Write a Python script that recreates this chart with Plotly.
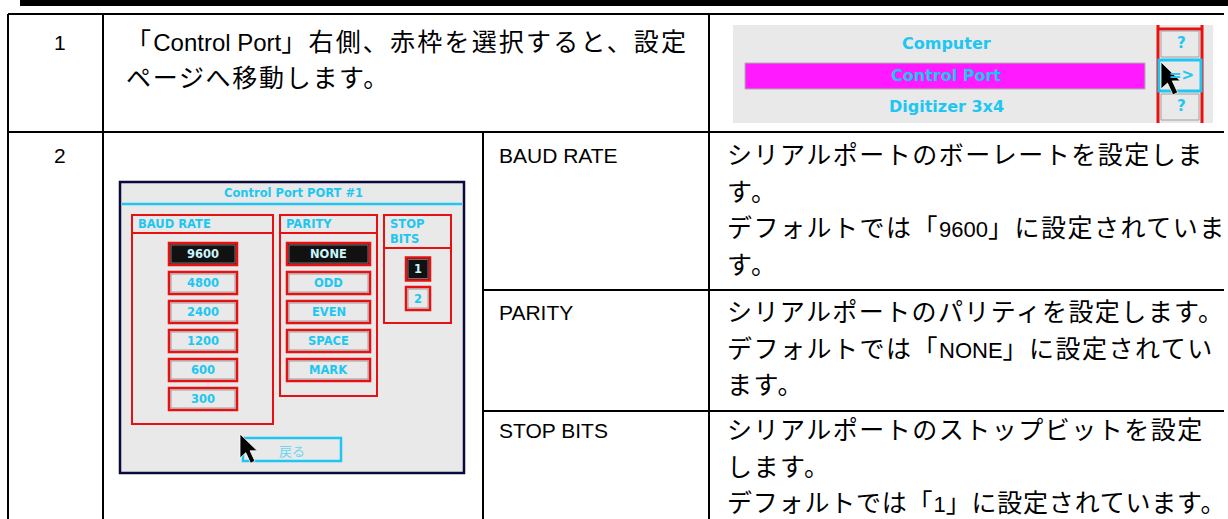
import re
import plotly.graph_objects as go

# ---------------- content ----------------
row_numbers = ["1", "2"]
row1_text = ["「Control Port」右側、赤枠を選択すると、設定", "ページへ移動します。"]
settings = ["BAUD RATE", "PARITY", "STOP BITS"]
setting_desc = [
    ["シリアルポートのボーレートを設定しま", "す。", "デフォルトでは「9600」に設定されていま", "す。"],
    ["シリアルポートのパリティを設定します。", "デフォルトでは「NONE」に設定されてい", "ます。"],
    ["シリアルポートのストップビットを設定", "します。", "デフォルトでは「1」に設定されています。"],
]
menu_items = ["Computer", "Control Port", "Digitizer 3x4"]
menu_buttons = ["?", "=>", "?"]
menu_selected = 1
window_title = "Control Port PORT #1"
group_titles = ["BAUD RATE", "PARITY", "STOP<br>BITS"]
baud_rates = ["9600", "4800", "2400", "1200", "600", "300"]
parities = ["NONE", "ODD", "EVEN", "SPACE", "MARK"]
stop_bits = ["1", "2"]
default_index = 0
back_label = "戻る"

# ---------------- style ----------------
W, H = 1228, 519
CYAN = "#20c6f2"
RED = "#e81010"
GRAY_BG = "#e9e9e9"
MAGENTA = "#ff1aff"
SEL_TXT = "#c8f6ff"
JP_FONT = "Liberation Sans, Noto Sans CJK JP"
UI_FONT = "DejaVu Sans"
LATIN_RE = r"([A-Za-z0-9][A-Za-z0-9 ]*[A-Za-z0-9]|[A-Za-z0-9])"

shapes = []
annotations = []


def rect(x0, y0, x1, y1, line=None, lw=0, fill=None):
    shapes.append(dict(type="rect", xref="x", yref="y", x0=x0, y0=y0, x1=x1, y1=y1,
                       line=dict(color=line or "rgba(0,0,0,0)", width=lw),
                       fillcolor=fill or "rgba(0,0,0,0)", layer="above"))


def line(x0, y0, x1, y1, color="black", lw=2):
    shapes.append(dict(type="line", xref="x", yref="y", x0=x0, y0=y0, x1=x1, y1=y1,
                       line=dict(color=color, width=lw), layer="above"))


def text(x, y, s, size, color="black", family=JP_FONT, xanchor="left", bold=False):
    if bold:
        s = "<b>" + s + "</b>"
    annotations.append(dict(x=x, y=y, xref="x", yref="y", text=s, showarrow=False,
                            xanchor=xanchor, yanchor="middle", align="left",
                            font=dict(size=size, color=color, family=family)))


def jp(s, latin_px=22, spacing=1.5):
    # latin runs in a smaller proportional size, CJK runs slightly letter-spaced
    parts = re.split(LATIN_RE, s)
    out = []
    for i, p in enumerate(parts):
        if not p:
            continue
        if i % 2 == 1:
            out.append("<span style='font-size:%dpx'>%s</span>" % (latin_px, p))
        else:
            out.append("<span style='letter-spacing:%.1fpx'>%s</span>" % (spacing, p))
    return "".join(out)


def fit_spacing(s, x0, right, base=1.5, em=25, latin_w=12.5):
    parts = re.split(LATIN_RE, s)
    n_cjk = sum(len(p) for i, p in enumerate(parts) if i % 2 == 0)
    n_lat = sum(len(p) for i, p in enumerate(parts) if i % 2 == 1)
    natural = n_cjk * em + n_lat * latin_w
    room = (right - x0 - natural) / max(n_cjk, 1)
    return min(base, room)


def cursor(tx, ty, s):
    pts = [(0, 0), (0, 1.0), (0.24, 0.78), (0.44, 1.22), (0.62, 1.13), (0.42, 0.70), (0.72, 0.70)]
    d = "M " + " L ".join("%.1f,%.1f" % (tx + px * s, ty + py * s) for px, py in pts) + " Z"
    shapes.append(dict(type="path", xref="x", yref="y", path=d, fillcolor="black",
                       line=dict(color="white", width=0.8), layer="above"))


# ---------------- page header bar ----------------
rect(20, 0, W, 6, fill="black")

# ---------------- table grid ----------------
X_L, X_NUM, X_MID, X_DESC, X_R = 8, 103, 483, 709, 1224
Y_T, Y_R1 = 14, 132
row2_seps = [290, 411]
line(X_L, Y_T, X_R, Y_T)
line(X_L, Y_R1, X_R, Y_R1)
line(X_L, Y_T, X_L, H)
line(X_NUM, Y_T, X_NUM, H)
line(X_DESC, Y_T, X_DESC, H)
line(X_MID, Y_R1, X_MID, H)
for ys in row2_seps:
    line(X_MID, ys, X_R, ys)

# row numbers
text(60, 42, row_numbers[0], 21, xanchor="center")
text(60, 155, row_numbers[1], 21, xanchor="center")

# row 1 text (first line justified to the cell width)
text(124, 42, jp(row1_text[0], latin_px=24, spacing=2.2), 25)
text(124, 78, jp(row1_text[1], spacing=1.7), 25)

# row 2 setting names and descriptions
row_tops = [155, 312, 430]
for k, name in enumerate(settings):
    text(497, row_tops[k], name, 21)
    for j, s in enumerate(setting_desc[k]):
        text(725, row_tops[k] + j * 36.5, jp(s, spacing=fit_spacing(s, 725, W - 1)), 25)

# ---------------- screenshot 1 (menu) ----------------
rect(733, 25, 1213, 123, fill=GRAY_BG)
menu_y = [43, 75, 106]
rect(745, 63, 1145, 89, fill=MAGENTA, line="#b0b0b0", lw=1)
for i, item in enumerate(menu_items):
    text(946, menu_y[i], item, 16, CYAN, UI_FONT, "center", bold=True)
# red frame with buttons
line(1158, 25, 1158, 123, RED, 3)
line(1202, 25, 1202, 123, RED, 3)
line(1158, 29, 1202, 29, RED, 3)
for i, b in enumerate(menu_buttons):
    if i == menu_selected:
        rect(1159, 60, 1201, 91, line=CYAN, lw=3)
    else:
        rect(1161, menu_y[i] - 12, 1199, menu_y[i] + 14, line="#a0a0a0", lw=1)
    text(1181, menu_y[i], b, 15, CYAN, UI_FONT, "center", bold=True)
cursor(1161, 62, 27)

# ---------------- screenshot 2 (port settings window) ----------------
rect(120, 182, 464, 473, line="#0a0a3c", lw=2.5, fill=GRAY_BG)
text(293, 193, window_title, 11.5, CYAN, UI_FONT, "center", bold=True)
line(122, 204, 462, 204, CYAN, 2.5)

groups = [(132, 273, 233, 424), (280, 377, 233, 396), (384, 451, 248, 323)]
for (gx0, gx1, hy, by), title in zip(groups, group_titles):
    rect(gx0, 215, gx1, hy, line=RED, lw=2)
    rect(gx0, hy, gx1, by, line=RED, lw=2)
    text(gx0 + 4, 224 if "<br>" not in title else 231, title, 11.5, CYAN, UI_FONT, "left", bold=True)


def button(x0, x1, yc, h, label, selected):
    rect(x0, yc - h / 2, x1, yc + h / 2, line=RED, lw=2.5, fill="#111111" if selected else GRAY_BG)
    rect(x0 + 2, yc - h / 2 + 2, x1 - 2, yc + h / 2 - 2, line="#8a8a8a", lw=0.8)
    text((x0 + x1) / 2, yc, label, 11.5, SEL_TXT if selected else CYAN, UI_FONT, "center", bold=True)


for i, b in enumerate(baud_rates):
    button(169, 237, 254 + i * 29, 22, b, i == default_index)
for i, p in enumerate(parities):
    button(287, 370, 254 + i * 29, 22, p, i == default_index)
for i, s in enumerate(stop_bits):
    button(406, 430, 269 + i * 29.5, 23, s, i == default_index)

rect(243, 438, 341, 461, line=CYAN, lw=2.5)
text(292, 450, back_label, 13, "#6cd6f2", "Noto Sans CJK JP", "center")
cursor(240, 434, 24)

# ---------------- figure ----------------
fig = go.Figure(go.Scatter(x=[0], y=[0], mode="markers", marker=dict(opacity=0), hoverinfo="skip"))
fig.update_layout(
    width=W, height=H, margin=dict(l=0, r=0, t=0, b=0),
    paper_bgcolor="white", plot_bgcolor="white", showlegend=False,
    xaxis=dict(range=[0, W], visible=False, fixedrange=True),
    yaxis=dict(range=[H, 0], visible=False, fixedrange=True),
    shapes=shapes, annotations=annotations,
)
fig.write_html("out.html", config={"displayModeBar": False},
               post_script="document.body.style.margin='0';document.body.style.overflow='hidden';")
